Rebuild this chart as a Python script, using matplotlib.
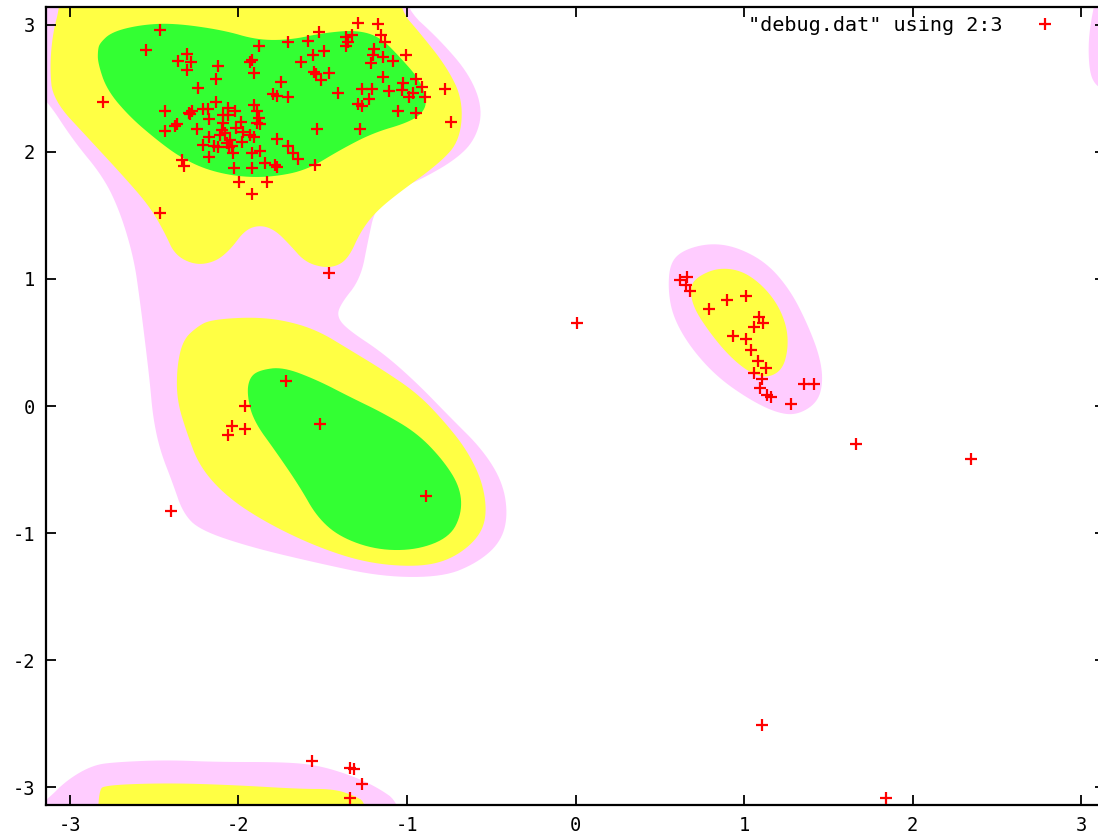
import numpy as np
import matplotlib as mpl
mpl.use("Agg")
import matplotlib.pyplot as plt

mpl.rcParams["axes.unicode_minus"] = False
mpl.rcParams["font.family"] = "DejaVu Sans Mono"

# scatter points (phi, psi)
phi = [-2.466, -2.549, -2.806, -2.307, -2.359, -2.284, -2.307, -2.124, -2.134, -2.240,
       -1.877, -1.922, -1.932, -1.908, -1.750, -1.793, -1.770, -1.704, -1.708, -1.589,
       -1.524, -1.631, -1.556, -1.493, -1.552, -1.540, -1.461, -1.512, -1.408, -1.289,
       -1.170, -1.156, -1.131, -1.362, -1.328, -1.348, -1.362, -1.194, -1.200, -1.214,
       -1.141, -1.085, -1.008, -1.141, -1.269, -1.210, -1.224, -1.107, -1.293, -1.269,
       -1.026, -1.031, -0.947, -0.913, -0.963, -0.986, -0.893, -0.774, -0.741, -1.055,
       -0.948, -1.279, -1.536, -1.546, -1.461, -2.466, -2.434, -2.434, -2.379, -2.363,
       -2.292, -2.278, -2.288, -2.248, -2.209, -2.179, -2.175, -2.134, -2.333, -2.323,
       -2.173, -2.173, -2.209, -2.145, -2.120, -2.094, -2.094, -2.100, -2.080, -2.110,
       -2.060, -2.021, -2.060, -2.050, -2.040, -2.031, -2.056, -2.070, -2.015, -1.985,
       -1.971, -1.981, -1.932, -1.908, -2.027, -1.995, -1.920, -1.920, -1.920, -1.872,
       -1.843, -1.833, -1.908, -1.888, -1.877, -1.872, -1.892, -1.773, -1.708, -1.675,
       -1.649, -1.783, -1.770,
       -1.566, -1.338, -1.315, -1.269, -1.338, 1.105, 1.843,
       -1.718, -1.961, -2.037, -1.961, -2.060, -1.516, -0.887, -2.402,
       0.620, 0.664, 0.656, 0.680, 0.794, 0.901, 1.012, 1.091, 1.115, 1.061,
       0.933, 1.010, 1.040, 1.081, 1.129, 1.061, 1.109, 1.095, 1.138, 1.160,
       1.277, 1.358, 1.417, 1.663, 2.345, 0.009]
psi = [2.958, 2.800, 2.392, 2.769, 2.717, 2.704, 2.643, 2.675, 2.575, 2.504,
       2.832, 2.725, 2.709, 2.623, 2.552, 2.452, 2.439, 2.434, 2.861, 2.874,
       2.945, 2.707, 2.762, 2.793, 2.630, 2.612, 2.623, 2.565, 2.465, 3.016,
       3.003, 2.919, 2.862, 2.906, 2.919, 2.866, 2.835, 2.806, 2.762, 2.701,
       2.748, 2.714, 2.762, 2.586, 2.492, 2.492, 2.418, 2.481, 2.376, 2.360,
       2.539, 2.486, 2.573, 2.508, 2.460, 2.429, 2.434, 2.492, 2.235, 2.321,
       2.303, 2.182, 2.182, 1.899, 1.044, 1.516, 2.321, 2.166, 2.205, 2.219,
       2.308, 2.323, 2.295, 2.179, 2.337, 2.337, 2.261, 2.394, 1.935, 1.888,
       2.114, 1.957, 2.054, 2.048, 2.040, 2.290, 2.224, 2.172, 2.148, 2.132,
       2.342, 2.321, 2.290, 2.093, 2.048, 1.988, 2.040, 2.067, 2.185, 2.232,
       2.158, 2.080, 2.132, 2.114, 1.870, 1.765, 1.870, 1.668, 1.988, 2.009,
       1.909, 1.765, 2.368, 2.323, 2.264, 2.219, 2.224, 2.098, 2.046, 1.988,
       1.941, 1.896, 1.883,
       -2.793, -2.846, -2.859, -2.977, -3.087, -2.510, -3.087,
       0.197, 0.000, -0.157, -0.183, -0.228, -0.144, -0.708, -0.824,
       0.991, 1.017, 0.952, 0.905, 0.763, 0.834, 0.865, 0.698, 0.651, 0.619,
       0.551, 0.525, 0.441, 0.356, 0.301, 0.262, 0.212, 0.139, 0.087, 0.073,
       0.016, 0.171, 0.171, -0.299, -0.414, 0.653]

# density regions (outline vertices, phi/psi)
pink_top = [(-3.4, 3.6), (-1.05, 3.6), (-1.024, 3.147), (-0.804, 2.880), (-0.626, 2.604),
            (-0.549, 2.329), (-0.596, 2.093), (-0.715, 1.935), (-0.923, 1.778), (-1.071, 1.699),
            (-1.190, 1.550), (-1.230, 1.306), (-1.275, 1.000), (-1.395, 0.800), (-1.415, 0.700),
            (-1.350, 0.600), (-1.142, 0.417), (-0.941, 0.181), (-0.745, -0.087), (-0.549, -0.346),
            (-0.430, -0.606), (-0.401, -0.873), (-0.448, -1.078), (-0.585, -1.235), (-0.786, -1.345),
            (-1.142, -1.345), (-1.534, -1.235), (-1.932, -1.109), (-2.229, -0.976), (-2.329, -0.842),
            (-2.390, -0.606), (-2.466, -0.346), (-2.507, -0.087), (-2.525, 0.181), (-2.555, 0.519),
            (-2.585, 0.834), (-2.620, 1.160), (-2.700, 1.520), (-2.800, 1.800), (-2.982, 2.093),
            (-3.136, 2.407), (-3.3, 2.6)]
yellow_top = [(-3.03, 3.6), (-1.1, 3.6), (-1.042, 3.116), (-0.923, 2.935), (-0.763, 2.667),
              (-0.668, 2.407), (-0.685, 2.093), (-0.804, 1.912), (-1.083, 1.644), (-1.202, 1.503),
              (-1.279, 1.361), (-1.338, 1.188), (-1.398, 1.109), (-1.487, 1.086), (-1.605, 1.133),
              (-1.694, 1.267), (-1.783, 1.385), (-1.872, 1.424), (-1.961, 1.385), (-2.050, 1.227),
              (-2.140, 1.133), (-2.258, 1.109), (-2.377, 1.188), (-2.436, 1.361), (-2.525, 1.566),
              (-2.662, 1.778), (-2.881, 2.093), (-3.101, 2.407), (-3.119, 2.667), (-3.101, 2.935),
              (-3.059, 3.147)]
green_top = [(-2.834, 2.801), (-2.822, 2.856), (-2.751, 2.943), (-2.585, 2.998), (-2.389, 3.013),
             (-2.092, 2.958), (-1.890, 2.880), (-1.694, 2.880), (-1.499, 2.935), (-1.297, 2.958),
             (-1.160, 2.903), (-1.042, 2.746), (-0.923, 2.565), (-0.881, 2.407), (-0.905, 2.305),
             (-1.000, 2.227), (-1.202, 2.148), (-1.398, 2.014), (-1.593, 1.857), (-1.795, 1.802),
             (-1.991, 1.802), (-2.187, 1.857), (-2.347, 1.959), (-2.484, 2.093), (-2.644, 2.274),
             (-2.780, 2.486), (-2.834, 2.699)]
yellow_mid = [(-2.169, 0.677), (-1.932, 0.700), (-1.736, 0.677), (-1.534, 0.598), (-1.338, 0.441),
              (-1.142, 0.283), (-0.941, 0.102), (-0.786, -0.110), (-0.644, -0.346), (-0.549, -0.606),
              (-0.525, -0.873), (-0.585, -1.054), (-0.745, -1.212), (-0.941, -1.267), (-1.238, -1.235),
              (-1.534, -1.109), (-1.831, -0.921), (-2.068, -0.716), (-2.229, -0.480), (-2.306, -0.212),
              (-2.365, 0.047), (-2.365, 0.307), (-2.329, 0.519), (-2.246, 0.622)]
green_mid = [(-1.872, 0.283), (-1.736, 0.307), (-1.534, 0.205), (-1.338, 0.071), (-1.142, -0.055),
             (-0.941, -0.212), (-0.786, -0.425), (-0.685, -0.637), (-0.674, -0.842), (-0.745, -1.031),
             (-0.941, -1.133), (-1.178, -1.133), (-1.398, -1.031), (-1.534, -0.873), (-1.635, -0.637),
             (-1.772, -0.370), (-1.914, -0.110), (-1.950, 0.102), (-1.932, 0.228)]
pink_right = [(0.561, 1.125), (0.638, 1.227), (0.798, 1.282), (0.958, 1.251), (1.136, 1.125),
              (1.273, 0.913), (1.374, 0.653), (1.451, 0.386), (1.469, 0.181), (1.433, 0.024),
              (1.315, -0.071), (1.196, -0.055), (1.036, 0.047), (0.840, 0.228), (0.680, 0.464),
              (0.579, 0.700), (0.549, 0.913)]
yellow_right = [(0.721, 1.015), (0.840, 1.086), (0.976, 1.070), (1.095, 0.968), (1.196, 0.810),
                (1.255, 0.622), (1.261, 0.441), (1.226, 0.283), (1.136, 0.220), (1.036, 0.260),
                (0.917, 0.386), (0.798, 0.574), (0.697, 0.779), (0.680, 0.936)]
pink_bottom = [(-3.4, -3.6), (-3.3, -3.25), (-3.136, -3.100), (-3.018, -2.943), (-2.864, -2.825),
               (-2.721, -2.801), (-2.424, -2.785), (-2.128, -2.801), (-1.736, -2.801), (-1.534, -2.825),
               (-1.338, -2.903), (-1.178, -2.998), (-1.042, -3.124), (-0.98, -3.6)]
yellow_bottom = [(-2.834, -3.6), (-2.834, -3.021), (-2.781, -2.982), (-2.424, -2.966), (-2.032, -2.982),
                 (-1.635, -3.013), (-1.439, -3.013), (-1.320, -3.061), (-1.237, -3.124), (-1.21, -3.6)]
pink_corner = [(3.101, 3.3), (3.053, 2.998), (3.042, 2.801), (3.053, 2.604), (3.095, 2.510),
               (3.172, 2.470), (3.35, 2.6), (3.35, 3.3)]

PINK, YELLOW, GREEN = "#ffccff", "#ffff44", "#33ff33"


def smooth(pts, n=3):
    # chaikin corner cutting on a closed outline
    p = np.array(pts, dtype=float)
    for _ in range(n):
        q = np.roll(p, -1, axis=0)
        p = np.vstack([0.75 * p + 0.25 * q, 0.25 * p + 0.75 * q]).reshape(2, -1, 2).transpose(1, 0, 2).reshape(-1, 2)
    return p


fig = plt.figure(figsize=(10.98, 8.35), dpi=100)
ax = fig.add_axes([46 / 1098, 29.7 / 835, 1059 / 1098, 798.6 / 835])

for poly, col in [(pink_top, PINK), (pink_right, PINK), (pink_bottom, PINK), (pink_corner, PINK),
                  (yellow_top, YELLOW), (yellow_mid, YELLOW), (yellow_right, YELLOW), (yellow_bottom, YELLOW),
                  (green_top, GREEN), (green_mid, GREEN)]:
    s = smooth(poly)
    ax.fill(s[:, 0], s[:, 1], color=col, lw=0, zorder=1)

ax.plot(phi, psi, "+", color="red", ms=9, mew=1.6, ls="None", zorder=3,
        label='"debug.dat" using 2:3')

ax.set_xlim(-np.pi, np.pi)
ax.set_ylim(-np.pi, np.pi)
ax.set_xticks(range(-3, 4))
ax.set_yticks(range(-3, 4))
ax.tick_params(direction="in", top=True, right=True, length=7, width=1.3,
               labelsize=13.5, pad=8)
for sp in ax.spines.values():
    sp.set_linewidth(1.6)

ax.legend(loc="upper right", bbox_to_anchor=(0.962, 0.988), frameon=False,
          markerfirst=False, fontsize=14.5, borderaxespad=0, borderpad=0,
          handletextpad=1.1, handlelength=2.0)

fig.savefig("out.png", dpi=100)
